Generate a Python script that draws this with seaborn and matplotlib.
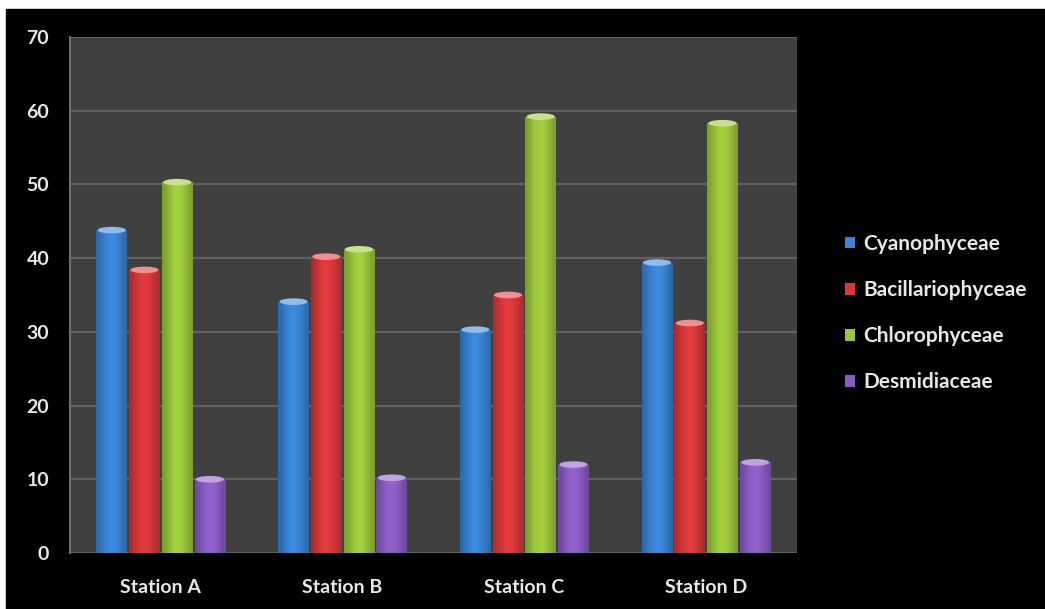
import numpy as np
import pandas as pd
import matplotlib
matplotlib.use("Agg")
import matplotlib.pyplot as plt
from matplotlib.patches import Rectangle, Ellipse
from matplotlib.colors import to_rgb
import seaborn as sns

stations = ["Station A", "Station B", "Station C", "Station D"]
groups = ["Cyanophyceae", "Bacillariophyceae", "Chlorophyceae", "Desmidiaceae"]
cyanophyceae = [43.8, 34.1, 30.3, 39.4]
bacillariophyceae = [38.4, 40.2, 35.0, 31.2]
chlorophyceae = [50.3, 41.2, 59.2, 58.3]
desmidiaceae = [10.0, 10.2, 12.0, 12.3]
colors = ["#3a83d5", "#d7383a", "#9bc63a", "#8a5cc4"]
y_ticks = [0, 10, 20, 30, 40, 50, 60, 70]

df = pd.DataFrame({
    "station": stations * 4,
    "group": np.repeat(groups, 4),
    "value": cyanophyceae + bacillariophyceae + chlorophyceae + desmidiaceae,
})

sns.set_style("dark")
plt.rcParams["font.family"] = ["Lato", "DejaVu Sans"]
plt.rcParams["font.weight"] = "bold"

fig = plt.figure(figsize=(10.45, 6.09), dpi=100)
fig.patch.set_facecolor("white")
# black canvas inside a thin white frame on the top and left
fig.add_artist(Rectangle((6 / 1045, 0), 1, (609 - 9) / 609,
                         transform=fig.transFigure, color="black", zorder=-10))

ax = fig.add_axes([70 / 1045, (609 - 553) / 609, 727 / 1045, 516 / 609])
ax.set_facecolor("#404040")

sns.barplot(data=df, x="station", y="value", hue="group", hue_order=groups,
            order=stations, palette=colors, width=0.72, gap=0.06,
            saturation=1, ax=ax, legend=True, zorder=3,
            edgecolor="none", linewidth=0)

# cylinder shading and a light cap on every bar
ny = 64
xs = np.linspace(-1, 1, ny)
shade = 0.80 + 0.26 * np.cos(xs * np.pi / 2) ** 1.5
for container, col in zip(ax.containers, colors):
    base = np.array(to_rgb(col))
    for bar in container:
        x0 = bar.get_x()
        w = bar.get_width()
        h = bar.get_height()
        img = np.clip(base[None, None, :] * shade[None, :, None], 0, 1)
        im = ax.imshow(img, extent=[x0, x0 + w, 0, h], aspect="auto",
                       zorder=4, interpolation="bilinear")
        im.set_clip_path(bar)
        cap = np.clip(base + (1 - base) * 0.45, 0, 1)
        ax.add_patch(Ellipse((x0 + w / 2, h), w * 0.92, 0.9,
                             facecolor=cap, edgecolor="none", zorder=5))

ax.set_xlim(-0.5, 3.5)
ax.set_ylim(0, 70)
ax.set_yticks(y_ticks)
ax.set_xlabel("")
ax.set_ylabel("")
ax.grid(axis="y", color="#626262", linewidth=1.6, zorder=1)
ax.grid(axis="x", visible=False)
ax.set_axisbelow(True)
for side in ["top", "right", "bottom"]:
    ax.spines[side].set_visible(False)
ax.spines["left"].set_color("#6e6e6e")
ax.spines["left"].set_linewidth(1.5)
ax.tick_params(axis="both", length=0, colors="#e8e8e8", labelsize=14)
ax.tick_params(axis="y", pad=15)
ax.tick_params(axis="x", pad=19)
for lbl in ax.get_xticklabels() + ax.get_yticklabels():
    lbl.set_fontweight("bold")

handles, labels = ax.get_legend_handles_labels()
ax.legend(handles, labels, loc="center left",
          bbox_to_anchor=(826 / 1045, 1 - 313 / 609),
          bbox_transform=fig.transFigure, frameon=False,
          handlelength=0.5, handleheight=0.5, handletextpad=0.4,
          labelspacing=1.25, prop={"weight": "bold", "size": 15},
          labelcolor="#e8e8e8")

fig.savefig("out.png", dpi=100, facecolor=fig.get_facecolor())
